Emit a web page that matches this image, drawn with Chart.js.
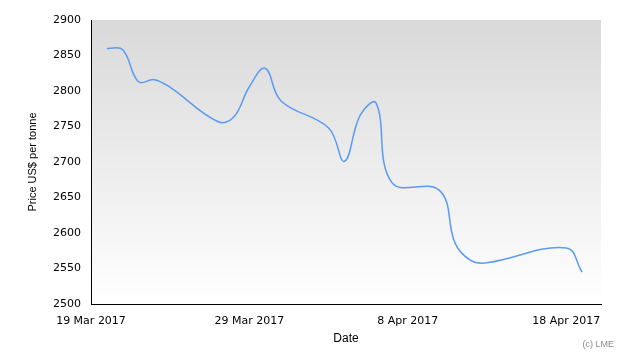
<!DOCTYPE html>
<html>
<head>
<meta charset="utf-8">
<script src="https://cdn.jsdelivr.net/npm/chart.js@4/dist/chart.umd.min.js"></script>
<style>
  body { margin: 0; background: #fff; }
  #wrap { width: 630px; height: 360px; }
</style>
</head>
<body>
<div id="wrap"><canvas id="priceChart"></canvas></div>
<script>
// days after 19 Mar 2017 (trading days only)
var dayOffsets = [1, 2, 3, 4, 5, 8, 9, 10, 11, 12, 15, 16, 17, 18, 19, 22, 23, 24, 25, 30, 31]
var prices = [2860, 2858, 2813, 2816, 2805, 2757, 2763, 2806, 2832, 2786, 2748, 2701, 2766, 2783, 2671, 2660, 2585, 2561, 2558, 2579, 2545]
var tickDays = [0, 10, 20, 30]
var tickLabels = ['19 Mar 2017', '29 Mar 2017', '8 Apr 2017', '18 Apr 2017']

var points = []
for (let i = 0; i < dayOffsets.length; i++) {
    points.push({x: dayOffsets[i], y: prices[i]})
}

// grey-to-white fill behind the plot
const plotBackground = {
    id: 'plotBackground',
    beforeDraw(chart) {
        const {ctx, chartArea} = chart
        let grad = ctx.createLinearGradient(0, chartArea.top, 0, chartArea.bottom)
        grad.addColorStop(0, '#d9d9d9')
        grad.addColorStop(1, '#ffffff')
        ctx.save()
        ctx.fillStyle = grad
        ctx.fillRect(chartArea.left, chartArea.top, chartArea.right - chartArea.left, chartArea.bottom - chartArea.top)
        ctx.restore()
    }
}

const creditText = {
    id: 'creditText',
    afterDraw(chart) {
        const ctx = chart.ctx
        ctx.save()
        ctx.font = '9px "Liberation Sans", Arial, sans-serif'
        ctx.fillStyle = '#8a8a8a'
        ctx.textAlign = 'right'
        ctx.textBaseline = 'middle'
        ctx.fillText('(c) LME', 614, 345)
        ctx.restore()
    }
}

let priceChart = new Chart(document.getElementById('priceChart'), {
    type: 'line',
    data: {
        datasets: [{
            label: 'Price',
            data: points,
            borderColor: '#5b9bf0',
            borderWidth: 1.5,
            pointRadius: 0,
            tension: 0.4,
            fill: false
        }]
    },
    options: {
        responsive: true,
        maintainAspectRatio: false,
        animation: false,
        layout: { padding: { left: 0, right: 29, top: 20, bottom: 0 } },
        plugins: { legend: { display: false }, tooltip: { enabled: false } },
        scales: {
            x: {
                type: 'linear',
                min: 0,
                max: 32.2,
                grid: { display: false, drawTicks: true, tickLength: 5, tickColor: '#000' },
                border: { color: '#000', width: 1 },
                afterBuildTicks(scale) {
                    scale.ticks = tickDays.map(d => ({value: d}))
                },
                afterFit(scale) { scale.height = 56 },
                ticks: {
                    autoSkip: false,
                    maxRotation: 0,
                    padding: 6,
                    color: '#000',
                    font: { family: 'DejaVu Sans', size: 11 },
                    callback: function(value) {
                        let i = tickDays.indexOf(value)
                        return i >= 0 ? tickLabels[i] : ''
                    }
                },
                title: {
                    display: true,
                    text: 'Date',
                    color: '#000',
                    font: { family: 'Liberation Sans', size: 12 },
                    padding: { top: 0, bottom: 14 }
                }
            },
            y: {
                min: 2500,
                max: 2900,
                grid: { display: false, drawTicks: true, tickLength: 5, tickColor: '#000' },
                border: { color: '#000', width: 1 },
                afterFit(scale) { scale.width = 91 },
                ticks: {
                    stepSize: 50,
                    padding: 5,
                    color: '#000',
                    font: { family: 'DejaVu Sans', size: 11 },
                    callback: function(value) { return String(value) }
                },
                title: {
                    display: true,
                    text: 'Price US$ per tonne',
                    color: '#000',
                    font: { family: 'Liberation Sans', size: 11 },
                    padding: { top: 26, bottom: 0 }
                }
            }
        }
    },
    plugins: [plotBackground, creditText]
})
</script>
</body>
</html>
